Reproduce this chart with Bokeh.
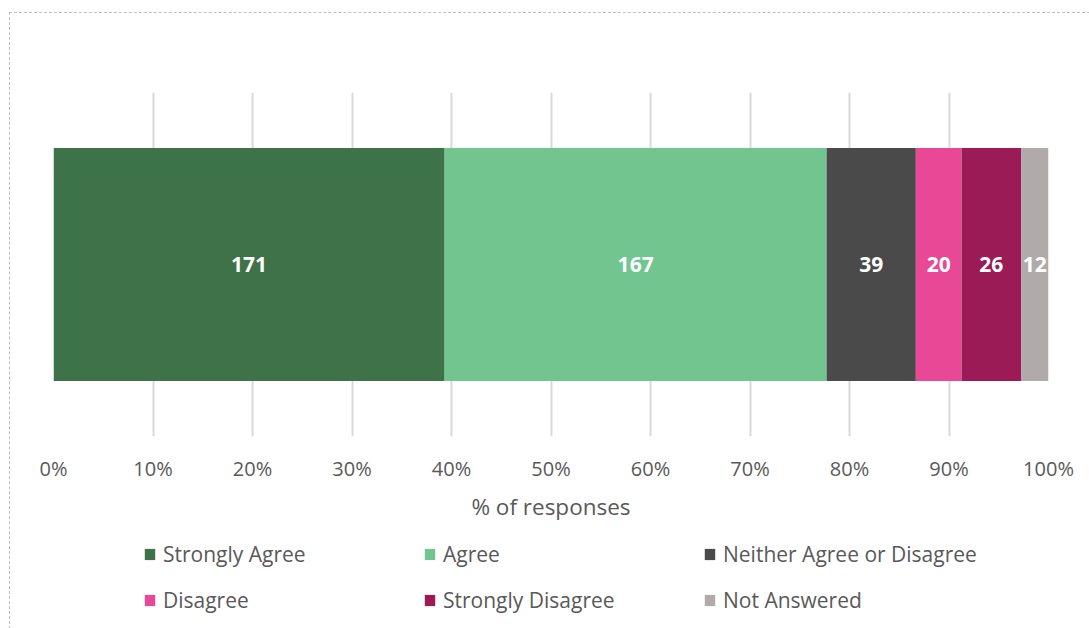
from bokeh.plotting import figure
from bokeh.layouts import column
from bokeh.models import Range1d, FixedTicker, Legend, LegendItem, ColumnDataSource
from bokeh.core.properties import value
from bokeh.embed import file_html
from bokeh.resources import INLINE

categories = ["Strongly Agree", "Agree", "Neither Agree or Disagree",
              "Disagree", "Strongly Disagree", "Not Answered"]
counts = [171, 167, 39, 20, 26, 12]
colors = ["#3E7248", "#72C58F", "#4A4A4A", "#E84896", "#9A1B56", "#B0AAAB"]
tick_values = [0, 10, 20, 30, 40, 50, 60, 70, 80, 90, 100]
tick_labels = ["0%", "10%", "20%", "30%", "40%", "50%", "60%", "70%", "80%", "90%", "100%"]
axis_title = "% of responses"

FONT = "Open Sans"
GREY = "#595959"

total = sum(counts)
lefts, rights = [], []
acc = 0.0
for c in counts:
    lefts.append(acc / total * 100)
    acc += c
    rights.append(acc / total * 100)
mids = [(l + r) / 2 for l, r in zip(lefts, rights)]

# ---- main chart ----
p = figure(width=1080, height=525, x_range=Range1d(0, 100), y_range=Range1d(0, 1),
           output_backend="svg", toolbar_location=None,
           min_border_left=43, min_border_right=42, min_border_top=79, min_border_bottom=102)
p.outline_line_color = None
p.border_fill_color = "white"

for i, cat in enumerate(categories):
    src = ColumnDataSource(dict(y=[0.5], left=[lefts[i]], right=[rights[i]]))
    p.hbar(y="y", left="left", right="right", height=233 / 344, source=src,
           fill_color=colors[i], line_color=None)

p.text(x=mids, y=[0.5] * len(mids), text=[str(c) for c in counts],
       text_align="center", text_baseline="middle", text_color="white",
       text_font=value(FONT), text_font_style="bold", text_font_size="21px")

p.yaxis.visible = False
p.ygrid.visible = False
p.xgrid.ticker = FixedTicker(ticks=tick_values)
p.xgrid.grid_line_color = "#D9D9D9"
p.xgrid.grid_line_width = 2
p.xaxis.ticker = FixedTicker(ticks=tick_values)
p.xaxis.major_label_overrides = {v: t for v, t in zip(tick_values, tick_labels)}
p.xaxis.axis_line_color = None
p.xaxis.major_tick_line_color = None
p.xaxis.minor_tick_line_color = None
p.xaxis.major_tick_out = 0
p.xaxis.major_tick_in = 0
p.xaxis.major_label_standoff = 18
p.xaxis.major_label_text_font = FONT
p.xaxis.major_label_text_font_size = "20px"
p.xaxis.major_label_text_color = GREY
p.xaxis.axis_label = axis_title
p.xaxis.axis_label_text_font = FONT
p.xaxis.axis_label_text_font_size = "22.5px"
p.xaxis.axis_label_text_font_style = "normal"
p.xaxis.axis_label_text_color = GREY
p.xaxis.axis_label_standoff = 6

# ---- legend strip ----
q = figure(width=1080, height=91, x_range=Range1d(0, 1), y_range=Range1d(0, 1),
           output_backend="svg", toolbar_location=None,
           min_border_left=0, min_border_right=0, min_border_top=0, min_border_bottom=0)
q.axis.visible = False
q.grid.visible = False
q.outline_line_color = None
q.border_fill_color = "white"

items = []
for i, cat in enumerate(categories):
    src = ColumnDataSource(dict(y=[-5.0], left=[lefts[i]], right=[rights[i]]))
    r = q.hbar(y="y", left="left", right="right", height=0.5, source=src,
               fill_color=colors[i], line_color=None)
    items.append(LegendItem(label=cat, renderers=[r]))

legend = Legend(items=items, orientation="horizontal", ncols=3, location=(90, 14),
                glyph_width=13, glyph_height=14, label_standoff=7,
                label_width=244, label_height=30, spacing=16, padding=0, margin=0,
                label_text_font=FONT, label_text_font_size="21px", label_text_color=GREY,
                border_line_color=None, background_fill_alpha=0)
q.add_layout(legend)

layout = column(p, q, spacing=0)
layout.margin = (12, 0, 0, 9)
layout.styles = {"border-left": "1px dashed #c0c0c0", "border-top": "1px dashed #c0c0c0"}

open("out.html", "w").write(file_html(layout, INLINE))
